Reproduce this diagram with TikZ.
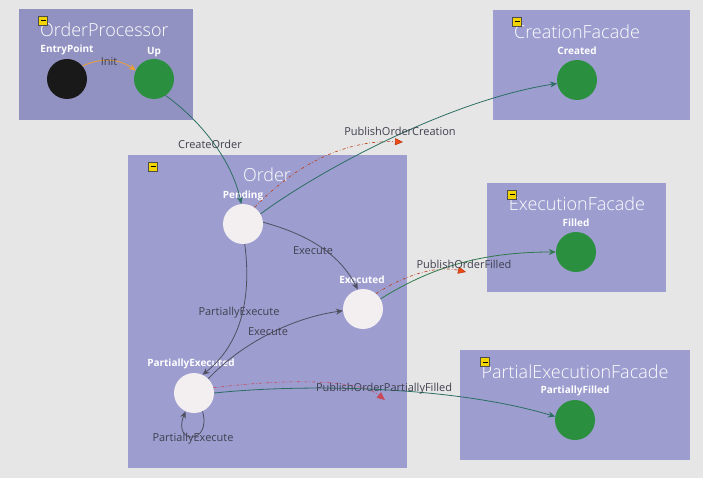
\documentclass[tikz,border=0pt]{standalone}
\usepackage{fontspec}
\setmainfont{Open Sans}
\IfFontExistsTF{Open Sans Light}{\newfontfamily\lightfont{Open Sans Light}}{\newfontfamily\lightfont{Open Sans}}
\usetikzlibrary{arrows.meta}
\definecolor{bg}{HTML}{E6E6E6}
\definecolor{boxc}{HTML}{9D9DD0}
\definecolor{boxd}{HTML}{9292C2}
\definecolor{grn}{HTML}{2A8F3E}
\definecolor{wht}{HTML}{F3EEF0}
\definecolor{edg}{HTML}{4E5060}
\definecolor{lbl}{HTML}{404050}
\definecolor{teal}{HTML}{2C6E62}
\definecolor{gline}{HTML}{2F7A4A}
\definecolor{redo}{HTML}{EE4A16}
\definecolor{redp}{HTML}{C84A5A}
\definecolor{orng}{HTML}{F0A030}
\definecolor{yel}{HTML}{F2D400}
\tikzset{
  container/.style={fill=boxc, draw=none},
  title/.style={text=white, font=\lightfont\fontsize{18}{18}\selectfont, inner sep=0pt},
  slabel/.style={text=white, font=\fontsize{10}{10}\selectfont\bfseries, inner sep=0pt},
  elabel/.style={text=lbl, font=\fontsize{11}{11}\selectfont, inner sep=0pt},
  state/.style={circle, minimum size=40pt, inner sep=0pt, draw=none},
  gstate/.style={state, fill=grn},
  wstate/.style={state, fill=wht},
  minus/.style={fill=yel, draw=black!70, line width=0.6pt, minimum size=9pt, inner sep=0pt, rectangle,
    path picture={\draw[black, line width=1pt] ([xshift=2pt]path picture bounding box.west) -- ([xshift=-2pt]path picture bounding box.east);}},
  trans/.style={draw=edg, line width=0.8pt, -{Stealth[length=7pt,width=6pt]}},
  pub/.style={line width=0.6pt, dash dot, -{Triangle[length=7pt,width=7pt]}},
}
\begin{document}
\begin{tikzpicture}[x=1pt,y=-1pt]
\useasboundingbox (0,0) rectangle (703,478);
\fill[bg] (0,0) rectangle (703,478);
% containers
\node[container, fill=boxd, minimum width=174pt, minimum height=111pt, anchor=north west, inner sep=0pt] (opbox) at (19,9) {};
\node[container, minimum width=197pt, minimum height=110pt, anchor=north west, inner sep=0pt] (cfbox) at (493,10) {};
\node[container, minimum width=279pt, minimum height=313pt, anchor=north west, inner sep=0pt] (obox) at (128,155) {};
\node[container, minimum width=179pt, minimum height=109pt, anchor=north west, inner sep=0pt] (efbox) at (487,183) {};
\node[container, minimum width=230pt, minimum height=110pt, anchor=north west, inner sep=0pt] (pfbox) at (460,350) {};
% titles
\node[title, anchor=west] (t1) at (40,30) {OrderProcessor};
\node[title] (t2) at (577,32) {CreationFacade};
\node[title] (t3) at (267,175) {Order};
\node[title] (t4) at (577,204) {ExecutionFacade};
\node[title] (t5) at (575,372) {PartialExecutionFacade};
% minus icons
\node[minus] (m1) at (43,21) {};
\node[minus] (m2) at (517,22) {};
\node[minus] (m3) at (153,167) {};
\node[minus] (m4) at (512,195) {};
\node[minus] (m5) at (485,362) {};
% states
\node[state, fill=black!90] (entry) at (67,79) {};
\node[gstate] (up) at (154,79) {};
\node[gstate] (created) at (577,80) {};
\node[gstate] (filled) at (576,252) {};
\node[gstate] (pfilled) at (575,420) {};
\node[wstate] (pending) at (243,224) {};
\node[wstate] (executed) at (363,309) {};
\node[wstate] (pexec) at (194,393) {};
% state labels
\node[slabel] (l1) at (67,50) {EntryPoint};
\node[slabel] (l2) at (154,52) {Up};
\node[slabel] (l3) at (577,51) {Created};
\node[slabel] (l4) at (576,223) {Filled};
\node[slabel] (l5) at (575,391) {PartiallyFilled};
\node[slabel] (l6) at (243,196) {Pending};
\node[slabel] (l7) at (362,280) {Executed};
\node[slabel] (l8) at (191,364) {PartiallyExecuted};
% free ends of publish arrows
\coordinate (pc) at (403,142);
\coordinate (pf) at (466,272);
\coordinate (pp) at (385,400);
% transitions
\draw[draw=orng, line width=0.8pt, -{Stealth[length=7pt,width=6pt]}] (entry.40) .. controls (100,58) and (118,58) .. (up.155);
\node[elabel] (e1) at (109,62) {Init};
\draw[trans, draw=teal] (up.-55) .. controls (200,120) and (232,160) .. (pending.95);
\node[elabel] (e2) at (210,144) {CreateOrder};
\draw[pub, draw=redo!80!black, -{Triangle[length=8pt,width=7pt,fill=redo]}] (pending.55) .. controls (300,160) and (350,140) .. (pc);
\draw[trans, draw=teal] (pending.30) .. controls (320,170) and (450,100) .. (created.190);
\node[elabel] (e3) at (400,131) {PublishOrderCreation};
\draw[trans] (pending.5) .. controls (310,235) and (340,255) .. (executed.105);
\node[elabel] (e4) at (313,251) {Execute};
\draw[trans] (pending.-85) .. controls (252,300) and (240,345) .. (pexec.65);
\node[elabel] (e5) at (239,313) {PartiallyExecute};
\draw[trans] (pexec.45) .. controls (240,345) and (290,318) .. (executed.185);
\node[elabel] (e6) at (268,332) {Execute};
\draw[trans] (pexec.-65) .. controls (212,445) and (172,445) .. (pexec.-115);
\node[elabel] (e7) at (193,439) {PartiallyExecute};
\draw[pub, draw=redo!80!black, -{Triangle[length=8pt,width=7pt,fill=redo]}] (executed.50) .. controls (410,272) and (440,266) .. (pf);
\draw[trans, draw=gline] (executed.30) .. controls (430,268) and (480,252) .. (filled.180);
\node[elabel] (e8) at (464,264) {PublishOrderFilled};
\draw[pub, draw=redp, -{Triangle[length=8pt,width=7pt,fill=redp]}] (pexec.15) .. controls (290,378) and (360,380) .. (pp);
\draw[trans, draw=teal] (pexec.0) .. controls (300,384) and (450,385) .. (pfilled.170);
\node[elabel] (e9) at (384,389) {PublishOrderPartiallyFilled};
\end{tikzpicture}
\end{document}
